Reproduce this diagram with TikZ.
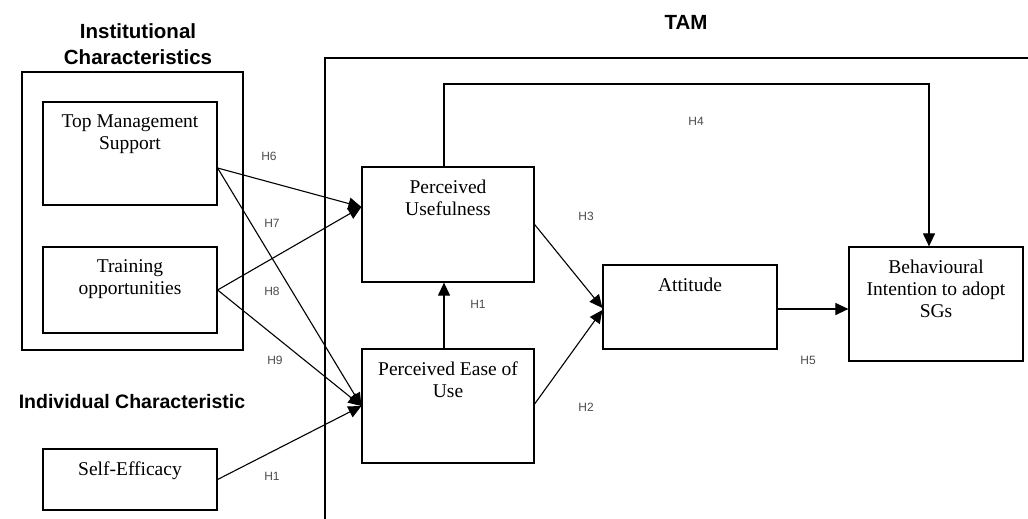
\documentclass[tikz,border=0pt]{standalone}
\usepackage{fontspec}
\setmainfont{Liberation Serif}
\setsansfont{Liberation Sans}
\usetikzlibrary{arrows.meta}

\begin{document}
\begin{tikzpicture}[x=1pt,y=-1pt, % one unit = one pixel of the sketch, y runs down
    box/.style={draw,line width=1.2pt,inner sep=0pt},
    boxtext/.style={anchor=north,inner sep=0pt,yshift=-13pt,align=center,
        font=\fontsize{19.5}{22}\selectfont},
    head/.style={align=center,font=\sffamily\bfseries\fontsize{20.5}{26}\selectfont},
    hyp/.style={text=black!70,font=\sffamily\fontsize{12}{14}\selectfont},
    arr/.style={line width=1.1pt,-{Triangle[length=13pt,width=12pt]}}]
        \useasboundingbox (0,0) rectangle (1028,519);

        % headings
        \node[head] (insthead) at (138,44) {Institutional\\Characteristics};
        \node[align=center,font=\sffamily\bfseries\fontsize{19.5}{26}\selectfont] (indhead) at (132,402) {Individual Characteristic};
        \node[head] (tamhead) at (686,22) {TAM};

        % TAM frame (runs off the page)
        \draw[line width=1.2pt] (1028,58) -| (325,519);

        % institutional group
        \node[box,minimum width=221pt,minimum height=278pt] (inst) at (132.5,211) {};
        \node[box,minimum width=174pt,minimum height=103pt] (tms) at (130,153.5) {};
        \node[boxtext] (tmstxt) at (tms.north) {Top Management\\Support};
        \node[box,minimum width=174pt,minimum height=86pt] (train) at (130,290) {};
        \node[boxtext] (traintxt) at (train.north) {Training\\opportunities};

        % individual
        \node[box,minimum width=174pt,minimum height=61pt] (self) at (130,479.5) {};
        \node[boxtext] (selftxt) at (self.north) {Self-Efficacy};

        % TAM constructs
        \node[box,minimum width=172pt,minimum height=115pt] (pu) at (448,224.5) {};
        \node[boxtext] (putxt) at (pu.north) {Perceived\\Usefulness};
        \node[box,minimum width=172pt,minimum height=114pt] (peu) at (448,406) {};
        \node[boxtext] (peutxt) at (peu.north) {Perceived Ease of\\Use};
        \node[box,minimum width=174pt,minimum height=84pt] (att) at (690,307) {};
        \node[boxtext] (atttxt) at (att.north) {Attitude};
        \node[box,minimum width=174pt,minimum height=114pt] (bi) at (936,304) {};
        \node[boxtext] (bitxt) at (bi.north) {Behavioural\\Intention to adopt\\SGs};

        % connectors
        \coordinate (tmsout) at ([yshift=-14.5pt]tms.east);
        \coordinate (puin) at ([yshift=17.5pt]pu.west);
        \coordinate (h4top) at (700,84);
        \draw[arr] (tmsout) -- (puin);
        \draw[arr] (tmsout) -- (peu.west);
        \draw[arr] (train.east) -- (puin);
        \draw[arr] (train.east) -- (peu.west);
        \draw[arr] (self.east) -- (peu.west);
        \draw[arr] ([xshift=-4pt]peu.north) -- ([xshift=-4pt]pu.south);
        \draw[arr] (pu.east) -- ([yshift=-1pt]att.west);
        \draw[arr] ([yshift=2pt]peu.east) -- ([yshift=-3pt]att.west);
        \draw[arr] ([xshift=-4pt]pu.north) |- (h4top) -| ([xshift=-7pt]bi.north);
        \draw[arr] ([yshift=-2pt]att.east) -- ([yshift=-2pt]att.east -| bi.west);

        % hypothesis labels
        \node[hyp] (h6) at (269,156) {H6};
        \node[hyp] (h7) at (272,223) {H7};
        \node[hyp] (h8) at (272,291) {H8};
        \node[hyp] (h9) at (275,360) {H9};
        \node[hyp] (h1a) at (272,476) {H1};
        \node[hyp] (h1b) at (478,304) {H1};
        \node[hyp] (h3) at (586,216) {H3};
        \node[hyp] (h2) at (586,407) {H2};
        \node[hyp] (h4) at (696,121) {H4};
        \node[hyp] (h5) at (808,360) {H5};

    \end{tikzpicture}
\end{document}
